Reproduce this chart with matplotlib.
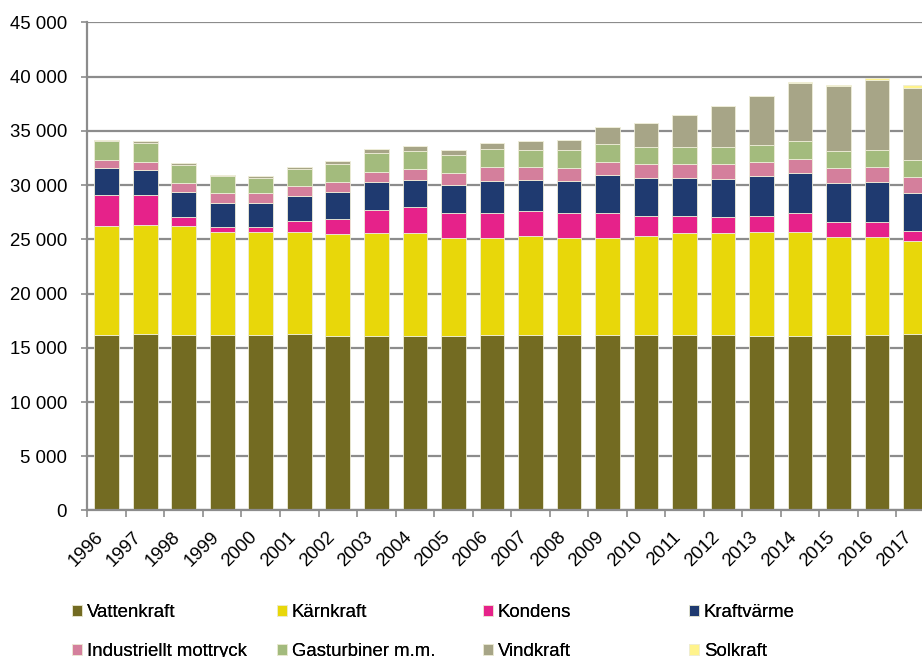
import numpy as np
import matplotlib.pyplot as plt
from matplotlib.ticker import FuncFormatter
from matplotlib.transforms import ScaledTranslation

plt.rcParams['font.family'] = ['Liberation Sans', 'DejaVu Sans']

years = [str(y) for y in range(1996, 2018)]

# installed capacity per source, MW
vattenkraft = [16200, 16230, 16170, 16170, 16170, 16230, 16080, 16110, 16080, 16110, 16200,
               16200, 16200, 16200, 16140, 16140, 16140, 16080, 16080, 16140, 16140, 16230]
karnkraft = [10050, 10080, 10080, 9460, 9490, 9430, 9430, 9460, 9520, 9000, 8940,
             9090, 8940, 8940, 9180, 9400, 9400, 9550, 9550, 9060, 9060, 8600]
kondens = [2820, 2760, 830, 460, 430, 1040, 1350, 2120, 2340, 2270, 2300,
           2300, 2270, 2270, 1830, 1630, 1500, 1540, 1780, 1410, 1410, 950]
kraftvarme = [2460, 2340, 2240, 2210, 2280, 2310, 2520, 2550, 2550, 2640, 2950,
              2860, 2920, 3530, 3520, 3500, 3530, 3620, 3690, 3560, 3660, 3500]
industri = [800, 730, 830, 960, 920, 920, 920, 980, 980, 1050, 1290,
            1230, 1200, 1200, 1230, 1260, 1350, 1350, 1320, 1380, 1380, 1440]
gasturbiner = [1720, 1750, 1690, 1530, 1380, 1540, 1630, 1720, 1660, 1660, 1600,
               1570, 1660, 1600, 1630, 1600, 1600, 1570, 1600, 1600, 1600, 1600]
vindkraft = [80, 150, 150, 180, 210, 210, 250, 400, 430, 460, 580,
             800, 950, 1570, 2150, 2890, 3780, 4480, 5380, 6020, 6480, 6660]
solkraft = [0, 0, 0, 0, 0, 0, 0, 0, 0, 0, 0,
            0, 0, 0, 0, 0, 0, 60, 90, 90, 180, 250]

series = [
    ('Vattenkraft', vattenkraft, '#736B22'),
    ('Kärnkraft', karnkraft, '#E8D70A'),
    ('Kondens', kondens, '#E6228A'),
    ('Kraftvärme', kraftvarme, '#1F3A70'),
    ('Industriellt mottryck', industri, '#D47F9C'),
    ('Gasturbiner m.m.', gasturbiner, '#A3BB7D'),
    ('Vindkraft', vindkraft, '#A7A587'),
    ('Solkraft', solkraft, '#FFF38C'),
]

fs = 13.4

fig = plt.figure(figsize=(9.22, 6.57), dpi=100)
# right edge runs past the figure, last bar is cut off
ax = fig.add_axes([0.0948, 0.223, 0.9192, 0.743])

x = np.arange(len(years))
bottom = np.zeros(len(years))
handles = []
for name, vals, col in series:
    vals = np.array(vals, dtype=float)
    b = ax.bar(x, vals, 0.64, bottom=bottom, color=col, edgecolor='#EEEDD8',
               linewidth=0.6, label=name, zorder=3)
    handles.append(b)
    bottom += vals

ax.set_xlim(-0.5, 21.5)
ax.set_ylim(0, 45000)
ax.set_yticks(np.arange(0, 45001, 5000))
ax.yaxis.set_major_formatter(FuncFormatter(lambda v, p: f'{int(v):,}'.replace(',', ' ')))
ax.grid(axis='y', color='#8C8C8C', linewidth=1.6, zorder=0)

ax.set_xticks(x)
ax.set_xticklabels(years, rotation=45, ha='right', va='top')
shift = ScaledTranslation(0.05, 0, fig.dpi_scale_trans)
for lab in ax.get_xticklabels():
    lab.set_transform(lab.get_transform() + shift)
ax.set_xticks(np.arange(-0.5, 21.6, 1), minor=True)
ax.tick_params(axis='x', which='major', length=0, pad=13, labelsize=fs)
ax.tick_params(axis='x', which='minor', length=5, width=1.2, color='#8C8C8C')
ax.tick_params(axis='y', length=4.6, width=1.2, color='#8C8C8C', labelsize=fs, pad=10)

for s in ['top', 'right']:
    ax.spines[s].set_visible(False)
for s in ['left', 'bottom']:
    ax.spines[s].set_color('#8C8C8C')
    ax.spines[s].set_linewidth(1.6)
    ax.spines[s].set_zorder(4)

# legend: four fixed-width columns, two rows each
col_x = [72, 277, 483, 689]
for c in range(4):
    pair = [c, c + 4]
    leg = fig.legend([handles[i] for i in pair], [series[i][0] for i in pair],
                     loc='upper left', bbox_to_anchor=(col_x[c] / 922, 1 - 604 / 657),
                     frameon=False, fontsize=fs, handlelength=0.54, handleheight=0.54,
                     handletextpad=0.25, labelspacing=1.2, borderpad=0,
                     borderaxespad=0)
    fig.add_artist(leg)

fig.savefig('out.png', dpi=100)
